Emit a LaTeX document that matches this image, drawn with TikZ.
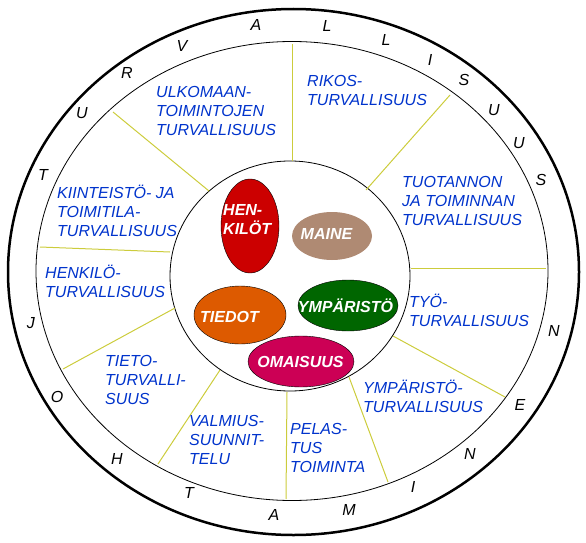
\documentclass[tikz,border=0pt]{standalone}
\usepackage{fontspec}
\setmainfont{Liberation Sans}
\usetikzlibrary{%
	calc,%
	arrows
}
\definecolor{secblue}{RGB}{0,51,204}
\definecolor{divline}{RGB}{204,204,60}
\definecolor{henred}{RGB}{204,0,0}
\definecolor{mainebrown}{RGB}{175,138,115}
\definecolor{tiedorange}{RGB}{221,90,0}
\definecolor{ympgreen}{RGB}{0,102,0}
\definecolor{omared}{RGB}{204,0,85}
\tikzset{%
	sector/.style={font=\fontsize{16}{19}\selectfont\itshape, text=secblue, align=left, inner sep=0pt, anchor=base west},
	ringletter/.style={font=\fontsize{16}{19}\selectfont\itshape, inner sep=0pt},
	blobtext/.style={font=\fontsize{16}{19}\selectfont\bfseries\itshape, text=white, align=left, inner sep=0pt},
	divider/.style={draw=divline, line width=1pt}
}

\begin{document}
\begin{tikzpicture}[x=1pt,y=-1pt]
				\useasboundingbox (0,0) rectangle (586,543);
				
				% Rings
				\draw[line width=2.5pt] (293.5,272) ellipse (285.5 and 263);
				\draw[line width=0.8pt] (292,271) ellipse (256 and 229.5);
				\draw[line width=0.8pt] (290,276) ellipse (120 and 115);
				
				% Dividers
				\draw[divider] (292,44) -- (292,161);
				\draw[divider] (113,112) -- (209,191);
				\draw[divider] (40,247) -- (170,252);
				\draw[divider] (63,369) -- (175,308);
				\draw[divider] (158,464) -- (220,370);
				\draw[divider] (286,499) -- (287,392);
				\draw[divider] (388,482) -- (349,377);
				\draw[divider] (505,397) -- (393,336);
				\draw[divider] (411,268) -- (546,268);
				\draw[divider] (450,95) -- (366,190);
				
				% Sectors (base = last line)
				\node[sector] (ulko) at (156,135) {ULKOMAAN-\\TOIMINTOJEN\\TURVALLISUUS};
				\node[sector] (rikos) at (307,105) {RIKOS-\\TURVALLISUUS};
				\node[sector] (tuot) at (402,225) {TUOTANNON\\JA TOIMINNAN\\TURVALLISUUS};
				\node[sector] (kiint) at (57,236) {KIINTEISTÖ- JA\\TOIMITILA-\\TURVALLISUUS};
				\node[sector] (henk) at (45,297) {HENKILÖ-\\TURVALLISUUS};
				\node[sector] (tieto) at (105,404) {TIETO-\\TURVALLI-\\SUUS};
				\node[sector] (valm) at (189,464) {VALMIUS-\\SUUNNIT-\\TELU};
				\node[sector] (pelas) at (290,472) {PELAS-\\TUS\\TOIMINTA};
				\node[sector] (ymp) at (363,412) {YMPÄRISTÖ-\\TURVALLISUUS};
				\node[sector] (tyo) at (409,326) {TYÖ-\\TURVALLISUUS};
				
				% Core
				\filldraw[fill=henred] (250,226) ellipse (29 and 47);
				\fill[mainebrown] (332,236) ellipse (40 and 24);
				\filldraw[fill=tiedorange] (240,315) ellipse (46 and 29);
				\filldraw[fill=ympgreen] (348,305.5) ellipse (50 and 25.5);
				\filldraw[fill=omared] (301,361.5) ellipse (53 and 25.5);
				\node[blobtext, anchor=base west] (henkilot) at (223,234) {HEN-\\KILÖT};
				\node[blobtext, anchor=base] (maine) at (326.5,239) {MAINE};
				\node[blobtext, anchor=base] (tiedot) at (229.5,322) {TIEDOT};
				\node[blobtext, anchor=base] (ymparisto) at (345.5,312) {YMPÄRISTÖ};
				\node[blobtext, anchor=base] (omaisuus) at (300.5,367) {OMAISUUS};
				
				% Ring letters
				\foreach \x/\y/\ch [count=\i] in {43/175/T,82/113/U,127/73/R,182/46/V,256/25/A,327/26/L,386/40/L,430/60/I,464/80/S,494/110/U,519/143/U,541/180/S}
				\node[ringletter] (turva\i) at (\x,\y) {\ch};
				\foreach \x/\y/\ch [count=\i] in {31/323/J,57/397/O,117/459/H,189/493/T,274/515/A,349/510/M,413/487/I,470/454/N,520/405/E,554/331/N}
				\node[ringletter] (johto\i) at (\x,\y) {\ch};
			\end{tikzpicture}
\end{document}
